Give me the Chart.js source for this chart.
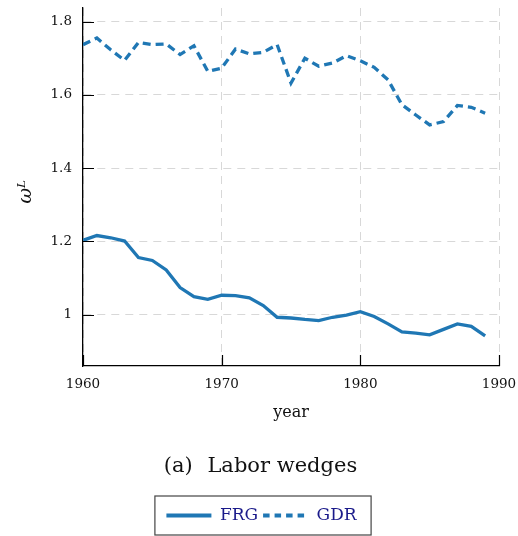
<!DOCTYPE html>
<html>
<head>
<script src="https://cdn.jsdelivr.net/npm/chart.js@4"></script>
<style>body{margin:0;background:#fff}</style>
</head>
<body>
<div style="width:518px;height:536px"><canvas id="myChart"></canvas></div>
<script>
// data
const years = [1960,1961,1962,1963,1964,1965,1966,1967,1968,1969,
               1970,1971,1972,1973,1974,1975,1976,1977,1978,1979,
               1980,1981,1982,1983,1984,1985,1986,1987,1988,1989];
const frg = [1.203,1.216,1.210,1.201,1.156,1.148,1.122,1.074,1.049,1.042,
             1.053,1.052,1.046,1.025,0.993,0.991,0.987,0.984,0.993,0.999,
             1.008,0.995,0.975,0.953,0.950,0.945,0.960,0.975,0.968,0.942];
const gdr = [1.737,1.755,1.723,1.694,1.743,1.737,1.739,1.710,1.734,1.664,
             1.673,1.725,1.712,1.716,1.737,1.632,1.700,1.678,1.687,1.707,
             1.693,1.675,1.641,1.573,1.545,1.518,1.527,1.571,1.566,1.550];
const xTicks = [1960, 1970, 1980, 1990];
const yTicks = [1, 1.2, 1.4, 1.6, 1.8];

const blue = '#1f77b4';
const serif = "'DejaVu Serif', serif";

// pgfplots style inward tick marks
const innerTicks = {
  id: 'innerTicks',
  afterDraw(chart) {
    const {ctx, chartArea: a, scales: {x, y}} = chart;
    ctx.save();
    ctx.strokeStyle = '#000';
    ctx.lineWidth = 1.2;
    ctx.beginPath();
    yTicks.forEach(v => {
      const py = Math.round(y.getPixelForValue(v)) + 0.5;
      ctx.moveTo(a.left, py); ctx.lineTo(a.left + 11, py);
    });
    xTicks.forEach(v => {
      const px = Math.round(x.getPixelForValue(v)) + 0.5;
      ctx.moveTo(px, a.bottom); ctx.lineTo(px, a.bottom - 11);
    });
    ctx.stroke();
    ctx.restore();
  }
};

// nudge caption and legend under the plot centre, box round the legend
const legendFrame = {
  id: 'legendFrame',
  afterLayout(chart) {
    const lg = chart.legend, tb = chart.titleBlock;
    lg.left += 12; lg.right += 12;
    lg.top += 2; lg.bottom += 2;
    tb.left += 11; tb.right += 11;
  },
  afterDraw(chart) {
    const boxes = chart.legend.legendHitBoxes;
    if (!boxes || !boxes.length) return;
    const first = boxes[0], last = boxes[boxes.length - 1];
    const cy = first.top + first.height / 2;
    const ctx = chart.ctx;
    ctx.save();
    ctx.strokeStyle = '#444';
    ctx.lineWidth = 1.2;
    ctx.strokeRect(first.left - 11.5, cy - 19.5, last.left + last.width - first.left + 26, 39);
    ctx.restore();
  }
};

let ctx = document.getElementById('myChart').getContext('2d');

let chart = new Chart(ctx, {
  type: 'line',
  data: {
    datasets: [{
      label: 'FRG',
      data: years.map((yr, i) => ({x: yr, y: frg[i]})),
      borderColor: blue,
      backgroundColor: blue,
      borderWidth: 3.3,
      pointRadius: 0,
      tension: 0
    }, {
      label: 'GDR',
      data: years.map((yr, i) => ({x: yr, y: gdr[i]})),
      borderColor: blue,
      backgroundColor: blue,
      borderWidth: 3.3,
      borderDash: [8, 5],
      pointRadius: 0,
      tension: 0
    }]
  },
  options: {
    responsive: true,
    maintainAspectRatio: false,
    animation: false,
    layout: {padding: {top: 8, right: 19, left: 0, bottom: 4}},
    scales: {
      x: {
        type: 'linear',
        min: 1960,
        max: 1990,
        afterBuildTicks: s => { s.ticks = xTicks.map(v => ({value: v})); },
        afterFit: s => { s.height = 62; s.paddingLeft = 0; s.paddingRight = 0; },
        ticks: {
          padding: 10,
          maxRotation: 0,
          color: '#111',
          font: {family: serif, size: 13.5},
          callback: v => String(v)
        },
        grid: {color: '#d8d8d8', lineWidth: 1, drawTicks: false},
        border: {display: true, color: '#000', width: 1.3, dash: [8, 6]},
        title: {display: true, text: 'year', color: '#111', font: {family: serif, size: 16}, padding: {top: 0, bottom: 6}}
      },
      y: {
        min: 0.86,
        max: 1.837,
        afterBuildTicks: s => { s.ticks = yTicks.map(v => ({value: v})); },
        afterFit: s => { s.width = 83; s.paddingTop = 0; s.paddingBottom = 0; },
        ticks: {
          padding: 11,
          color: '#111',
          font: {family: serif, size: 13.5},
          callback: v => String(+v.toFixed(1))
        },
        grid: {color: '#d8d8d8', lineWidth: 1, drawTicks: false},
        border: {display: true, color: '#000', width: 1.3, dash: [8, 6]},
        title: {display: true, text: 'ωᴸ\u2002', color: '#111', font: {family: serif, size: 19, style: 'italic'}, padding: {top: 15, bottom: 0}}
      }
    },
    plugins: {
      title: {
        display: true,
        position: 'bottom',
        weight: 500,
        text: '(a)\u2002\u2009Labor wedges',
        color: '#111',
        font: {family: serif, size: 21, weight: 'normal'},
        padding: {top: 26, bottom: 20.8}
      },
      legend: {
        position: 'bottom',
        labels: {
          usePointStyle: true,
          pointStyle: 'line',
          pointStyleWidth: 45,
          boxHeight: 17,
          padding: 5,
          color: '#1a1a8a',
          font: {family: serif, size: 17},
          generateLabels: c => Chart.defaults.plugins.legend.labels.generateLabels(c).map(it => Object.assign(it, {
            lineDash: c.data.datasets[it.datasetIndex].borderDash ? [6.5, 5] : [],
            lineWidth: 3.8,
            strokeStyle: blue
          }))
        }
      },
      tooltip: {enabled: false}
    }
  },
  plugins: [innerTicks, legendFrame]
});
</script>
</body>
</html>
